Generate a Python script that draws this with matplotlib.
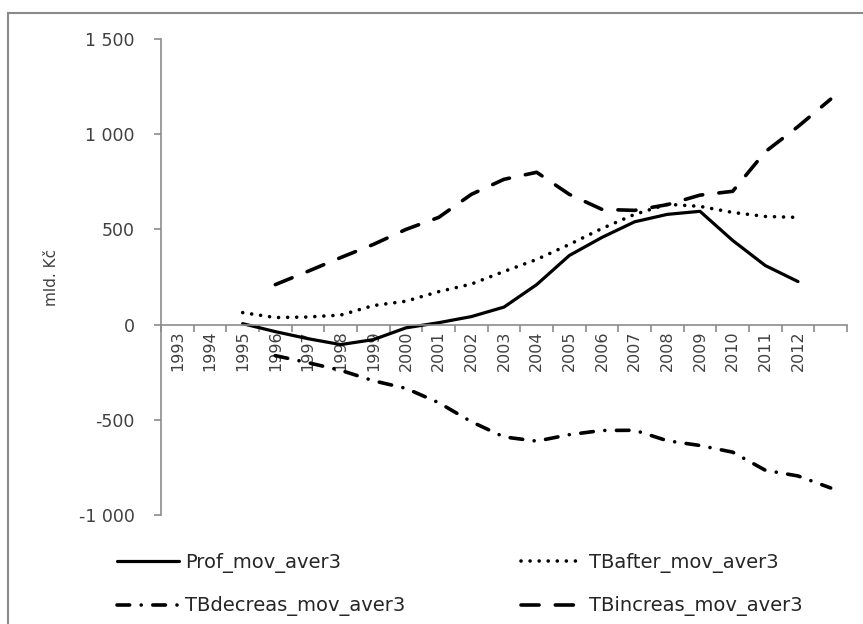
import numpy as np
import matplotlib
matplotlib.use("Agg")
import matplotlib.pyplot as plt
from matplotlib.lines import Line2D
from matplotlib.ticker import FixedLocator, FuncFormatter

nan = np.nan
categories = ["1993", "1994", "1995", "1996", "1997", "1998", "1999", "2000",
              "2001", "2002", "2003", "2004", "2005", "2006", "2007", "2008",
              "2009", "2010", "2011", "2012", ""]
prof = [nan, nan, 5, -37, -74, -105, -79, -17, 10, 42, 92, 210, 363, 458,
        540, 579, 595, 442, 310, 226, nan]
tbafter = [nan, nan, 63, 37, 40, 50, 100, 123, 173, 213, 279, 342, 421, 505,
           579, 632, 621, 589, 568, 563, nan]
tbdecreas = [nan, nan, nan, -163, -200, -240, -295, -335, -410, -510, -590,
             -612, -578, -556, -555, -610, -635, -670, -765, -795, -858]
tbincreas = [nan, nan, nan, 210, 280, 352, 421, 500, 563, 684, 763, 800, 684,
             605, 600, 630, 680, 700, 908, 1040, 1184]
yticks = [-1000, -500, 0, 500, 1000, 1500]

W, H = 863, 624
fig = plt.figure(figsize=(W / 100, H / 100), dpi=100)
plt.rcParams['font.family'] = ['DejaVu Sans']

ax = fig.add_axes([161 / W, (H - 515) / H, (847 - 161) / W, (515 - 39) / H])
x = np.arange(len(categories))
col = 'black'
l1, = ax.plot(x, prof, color=col, lw=2.3, solid_capstyle='round', solid_joinstyle='round')
l2, = ax.plot(x, tbafter, color=col, lw=2.6, linestyle=(0, (0.01, 2.5)),
              dash_capstyle='round')
l3, = ax.plot(x, tbdecreas, color=col, lw=2.6, linestyle=(0, (3.5, 3.2, 0.01, 3.2)),
              dash_capstyle='round')
l4, = ax.plot(x, tbincreas, color=col, lw=2.6, linestyle=(0, (5.0, 4.5)),
              dash_capstyle='round')

ax.set_xlim(-0.5, len(categories) - 0.5)
ax.set_ylim(-1000, 1500)

gray = '#8c8c8c'
for s in ['top', 'right']:
    ax.spines[s].set_visible(False)
ax.spines['left'].set_color(gray)
ax.spines['bottom'].set_color(gray)
ax.spines['left'].set_linewidth(1.2)
ax.spines['bottom'].set_linewidth(1.2)
ax.spines['bottom'].set_position(('data', 0))

ax.yaxis.set_major_locator(FixedLocator(yticks))
ax.yaxis.set_major_formatter(FuncFormatter(
    lambda v, p: ('-' if v < 0 else '') + f"{abs(int(v)):,}".replace(',', ' ')))
ax.tick_params(axis='y', direction='out', length=5, width=1.2, color=gray,
               labelsize=12.5, labelcolor='#404040', pad=14)

ax.set_xticks(x)
ax.set_xticklabels(categories, rotation=90, va='top', ha='center')
ax.set_xticks(np.arange(-0.5, len(categories) + 0.5, 1), minor=True)
ax.tick_params(axis='x', which='major', length=0, labelsize=11.5,
               labelcolor='#404040', pad=4)
ax.tick_params(axis='x', which='minor', direction='out', length=5, width=1.2,
               color=gray)

ax.set_ylabel('mld. Kč', fontsize=11, color='#404040', labelpad=14)

# chart area border (top and left edges visible)
fig.add_artist(Line2D([8 / W, 1.0], [1 - 13 / H, 1 - 13 / H], transform=fig.transFigure,
                      color='#8a8a8a', lw=1.5))
fig.add_artist(Line2D([8 / W, 8 / W], [0, 1 - 13 / H], transform=fig.transFigure,
                      color='#8a8a8a', lw=1.5))

leg = fig.legend([l1, l3, l2, l4],
                 ['Prof_mov_aver3', 'TBdecreas_mov_aver3', 'TBafter_mov_aver3',
                  'TBincreas_mov_aver3'],
                 ncol=2, loc='upper left', bbox_to_anchor=(117 / W, 1 - 553 / H),
                 frameon=False, fontsize=14, handlelength=3.2, handletextpad=0.3,
                 columnspacing=5.95, labelspacing=1.2, borderpad=0, borderaxespad=0)
for t in leg.get_texts():
    t.set_color('#262626')

fig.savefig('out.png', dpi=100)
